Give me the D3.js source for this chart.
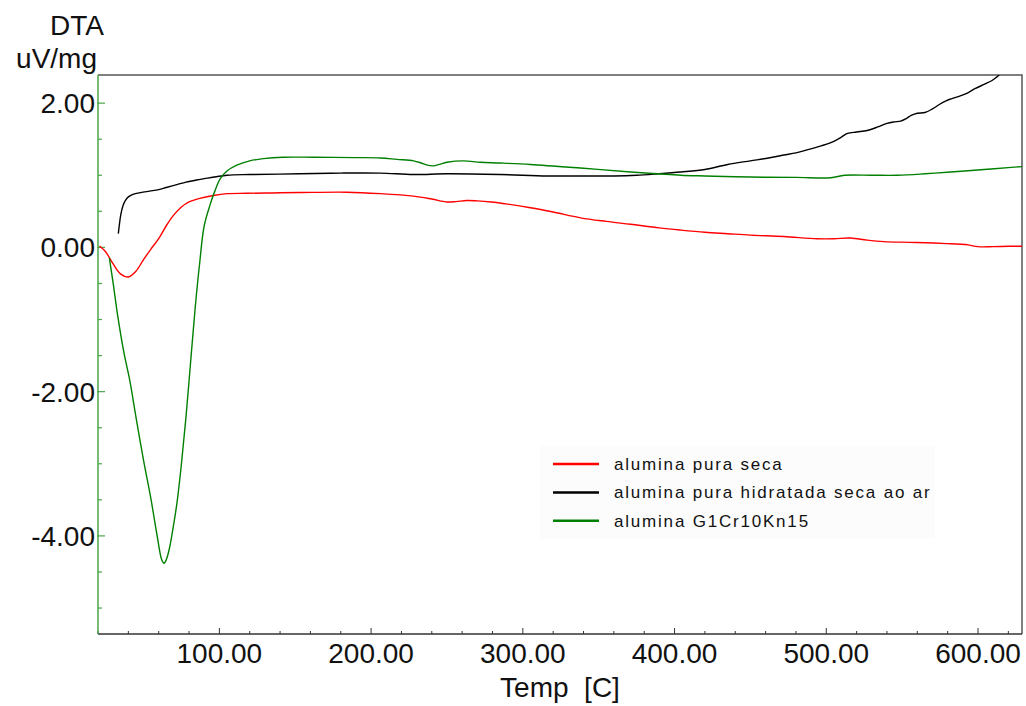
<!DOCTYPE html>
<html>
<head>
<meta charset="utf-8">
<script src="https://cdn.jsdelivr.net/npm/d3@7"></script>
<style>
  html, body { margin: 0; padding: 0; background: #fff; }
  svg { display: block; font-family: "Liberation Sans", Arial, Helvetica, sans-serif; }
</style>
</head>
<body>
<svg id="chart" width="1026" height="706"></svg>
<script>
// DTA curves: temperature (C) against signal (uV/mg)
const seriesNames = ["alumina pura seca", "alumina pura hidratada seca ao ar", "alumina G1Cr10Kn15"];
const seriesColors = ["#ff0000", "#000000", "#008000"];

const redTemp = [21, 25, 30, 35, 40, 45, 50, 55, 60, 65, 70, 75, 80, 87, 96, 105, 118, 135, 153, 184, 206, 228, 240, 250, 256, 263, 270, 279, 290, 305, 320, 338, 355, 371, 390, 404, 420, 435, 450, 472, 494, 505, 516, 527, 538, 555, 571, 582, 592, 600, 610, 620, 629];
const redVal  = [0.02, -0.06, -0.23, -0.37, -0.41, -0.33, -0.17, -0.02, 0.12, 0.30, 0.45, 0.56, 0.63, 0.68, 0.72, 0.745, 0.75, 0.755, 0.76, 0.765, 0.745, 0.71, 0.67, 0.63, 0.635, 0.65, 0.645, 0.63, 0.6, 0.55, 0.49, 0.41, 0.36, 0.32, 0.27, 0.24, 0.21, 0.19, 0.17, 0.15, 0.12, 0.12, 0.13, 0.10, 0.08, 0.07, 0.06, 0.05, 0.04, 0.01, 0.01, 0.015, 0.015];

const blackTemp = [33.4, 34, 35, 36.5, 38, 40, 43, 48, 54, 60, 65, 72, 78, 85, 92, 98, 105, 120, 153, 180, 206, 228, 250, 285, 316, 340, 360, 375, 389, 404, 420, 435, 450, 462, 472, 480, 488, 497, 505, 510, 514, 520, 527, 534, 540, 545, 549, 553, 556, 560, 565, 570, 576, 581, 587, 593, 598, 604, 609, 614];
const blackVal  = [0.19, 0.30, 0.45, 0.58, 0.65, 0.70, 0.735, 0.76, 0.78, 0.80, 0.83, 0.87, 0.905, 0.935, 0.96, 0.98, 1.0, 1.01, 1.02, 1.03, 1.03, 1.01, 1.02, 1.01, 0.99, 0.99, 0.99, 1.0, 1.02, 1.045, 1.08, 1.15, 1.20, 1.24, 1.28, 1.31, 1.355, 1.41, 1.47, 1.53, 1.58, 1.60, 1.62, 1.67, 1.72, 1.74, 1.75, 1.79, 1.83, 1.86, 1.87, 1.92, 2.0, 2.05, 2.09, 2.14, 2.2, 2.26, 2.31, 2.39];

const greenTemp = [27.5, 30, 33, 37, 41, 45, 50, 55, 59, 62, 63.5, 65, 67, 69, 72, 75, 78, 81, 84, 87, 90, 94, 97, 100.5, 105, 111.5, 120, 129, 142, 162, 190, 206, 217, 228, 233, 237, 241, 245, 250, 261, 272, 285, 305, 338, 371, 389, 404, 420, 450, 480, 503, 512, 530, 547, 565, 582, 604, 622, 629];
const greenVal  = [-0.15, -0.5, -0.95, -1.45, -1.85, -2.35, -2.95, -3.5, -4.0, -4.33, -4.38, -4.33, -4.18, -3.95, -3.55, -3.0, -2.35, -1.6, -0.85, -0.22, 0.3, 0.6, 0.78, 0.95, 1.06, 1.14, 1.2, 1.23, 1.25, 1.25, 1.245, 1.24, 1.22, 1.2, 1.17, 1.14, 1.13, 1.15, 1.18, 1.2, 1.18, 1.17, 1.15, 1.10, 1.045, 1.02, 1.0, 0.99, 0.975, 0.97, 0.965, 1.0, 1.0, 1.0, 1.02, 1.045, 1.08, 1.11, 1.12];

const xMajorTicks = [100, 200, 300, 400, 500, 600];
const yMajorTicks = [2, 0, -2, -4];

const svg = d3.select("#chart");
const plot = { left: 98, right: 1022, top: 75, bottom: 634 };

const x = d3.scaleLinear().domain([20, 629]).range([plot.left, plot.right]);
const y = d3.scaleLinear().domain([-5.36, 2.39]).range([plot.bottom, plot.top]);
const fmt = d => d.toFixed(2);

svg.append("defs").append("clipPath").attr("id", "plotClip")
  .append("rect")
  .attr("x", plot.left).attr("y", plot.top)
  .attr("width", plot.right - plot.left).attr("height", plot.bottom - plot.top);

// frame: top and right edges
svg.append("path")
  .attr("d", `M${plot.left},${plot.top}H${plot.right}V${plot.bottom}`)
  .attr("fill", "none").attr("stroke", "#555").attr("stroke-width", 1.5);

// x axis with inward ticks (minor every 20, major every 100)
const xAxisG = svg.append("g");
xAxisG.append("line")
  .attr("x1", plot.left).attr("x2", plot.right)
  .attr("y1", plot.bottom).attr("y2", plot.bottom)
  .attr("stroke", "#333").attr("stroke-width", 1.5);
const xMinor = d3.range(20, 630, 20);
xAxisG.selectAll("line.minor").data(xMinor).join("line")
  .attr("class", "minor")
  .attr("x1", d => x(d)).attr("x2", d => x(d))
  .attr("y1", plot.bottom).attr("y2", d => plot.bottom - (d % 100 === 0 ? 6 : 3))
  .attr("stroke", "#333").attr("stroke-width", 1);
xAxisG.selectAll("text").data(xMajorTicks).join("text")
  .attr("x", d => x(d)).attr("y", 663)
  .attr("text-anchor", "middle")
  .attr("font-size", 28).attr("fill", "#111")
  .text(fmt);

// y axis (green) with inward ticks (minor every 0.5, major every 2)
const yAxisG = svg.append("g");
const axisGreen = "#4aa64a";
yAxisG.append("line")
  .attr("x1", plot.left).attr("x2", plot.left)
  .attr("y1", plot.top).attr("y2", plot.bottom)
  .attr("stroke", axisGreen).attr("stroke-width", 1.5);
const yMinor = d3.range(-5, 2.5, 0.5);
yAxisG.selectAll("line.tick").data(yMinor).join("line")
  .attr("class", "tick")
  .attr("x1", d => Math.abs(d % 2) < 1e-9 ? plot.left - 1 : plot.left)
  .attr("x2", d => plot.left + (Math.abs(d % 2) < 1e-9 ? 7 : 4))
  .attr("y1", d => y(d)).attr("y2", d => y(d))
  .attr("stroke", axisGreen).attr("stroke-width", 1.2);
yAxisG.selectAll("text").data(yMajorTicks).join("text")
  .attr("x", 95).attr("y", d => y(d))
  .attr("dy", "0.36em")
  .attr("text-anchor", "end")
  .attr("font-size", 28).attr("fill", "#111")
  .text(fmt);

// axis titles
svg.append("text").attr("x", 104).attr("y", 35).attr("text-anchor", "end")
  .attr("font-size", 28).attr("fill", "#111").text("DTA");
svg.append("text").attr("x", 97).attr("y", 68).attr("text-anchor", "end")
  .attr("font-size", 28).attr("fill", "#111").text("uV/mg");
svg.append("text").attr("x", (plot.left + plot.right) / 2).attr("y", 697)
  .attr("text-anchor", "middle").attr("font-size", 28).attr("fill", "#111")
  .style("white-space", "pre").text("Temp  [C]");

// curves
const series = [
  { temp: redTemp, val: redVal },
  { temp: blackTemp, val: blackVal },
  { temp: greenTemp, val: greenVal }
];
const line = d3.line()
  .x(d => x(d[0])).y(d => y(d[1]))
  .curve(d3.curveCatmullRom.alpha(0.5));
const curves = svg.append("g").attr("clip-path", "url(#plotClip)");
series.forEach((s, i) => {
  curves.append("path")
    .datum(d3.zip(s.temp, s.val))
    .attr("fill", "none")
    .attr("stroke", seriesColors[i])
    .attr("stroke-width", 1.4)
    .attr("d", line);
});

// legend
const legend = svg.append("g");
legend.append("rect")
  .attr("x", 540).attr("y", 446).attr("width", 395).attr("height", 93)
  .attr("fill", "#fcfcfc");
seriesNames.forEach((name, i) => {
  const ly = 464 + i * 28.4;
  legend.append("line")
    .attr("x1", 553).attr("x2", 599).attr("y1", ly).attr("y2", ly)
    .attr("stroke", seriesColors[i]).attr("stroke-width", 2.5);
  legend.append("text")
    .attr("x", 614).attr("y", ly + 6)
    .attr("font-size", 17).attr("letter-spacing", 1.8)
    .attr("fill", "#111").text(name);
});
</script>
</body>
</html>
